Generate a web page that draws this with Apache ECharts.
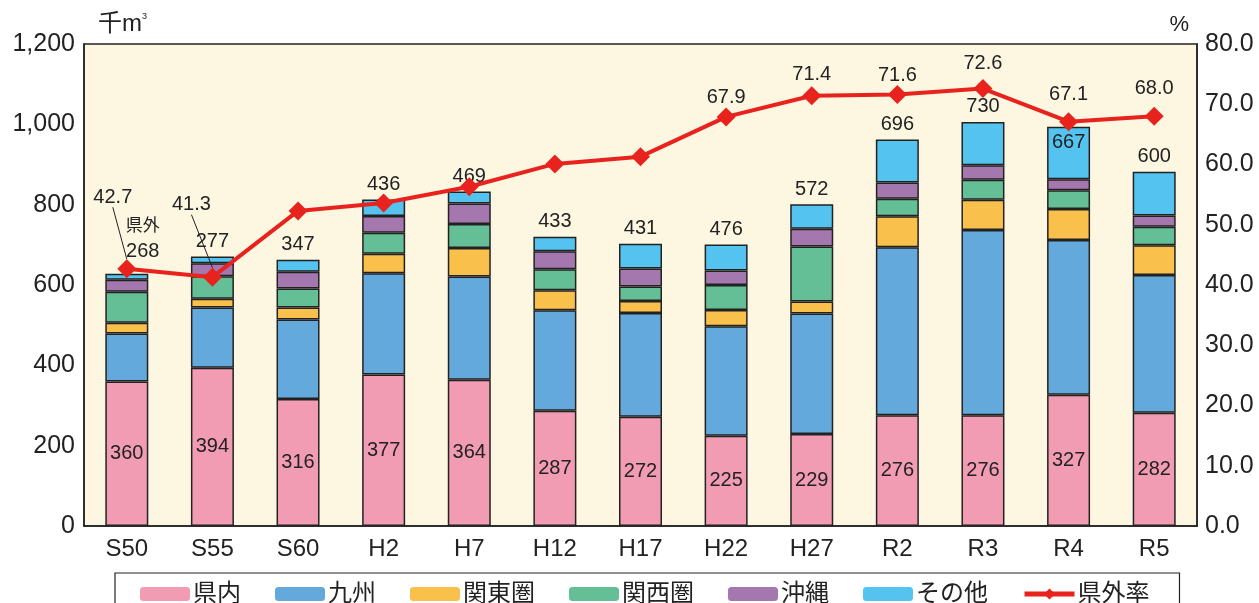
<!DOCTYPE html>
<html>
<head>
<meta charset="utf-8">
<script src="https://cdn.jsdelivr.net/npm/echarts@6/dist/echarts.min.js"></script>
<style>
  html, body { margin: 0; padding: 0; background: #fff; }
  #chart { width: 1259px; height: 603px; }
</style>
</head>
<body>
<div id="chart"></div>
<script>
const categories = ["S50", "S55", "S60", "H2", "H7", "H12", "H17", "H22", "H27", "R2", "R3", "R4", "R5"];
// 千m³
const kennai = [360, 394, 316, 377, 364, 287, 272, 225, 229, 276, 276, 327, 282];
const kyushu = [119, 150, 198, 252, 257, 250, 258, 272, 300, 418, 461, 385, 343];
const kanto = [27, 22, 30, 49, 71, 50, 30, 41, 30, 77, 75, 77, 74];
const kansai = [77, 56, 47, 52, 60, 52, 36, 62, 137, 44, 50, 47, 46];
const okinawa = [30, 32, 42, 42, 51, 45, 45, 36, 44, 40, 36, 27, 28];
const sonota = [15, 17, 30, 41, 30, 36, 62, 65, 61, 107, 108, 131, 109];
const kengaiTotal = [268, 277, 347, 436, 469, 433, 431, 476, 572, 696, 730, 667, 600];
// %
const kengaiRate = [42.7, 41.3, 52.3, 53.6, 56.3, 60.1, 61.3, 67.9, 71.4, 71.6, 72.6, 67.1, 68.0];
const rateLabelShown = [true, true, false, false, false, false, false, true, true, true, true, true, true];

const FONT = "'Liberation Sans', 'Noto Sans CJK JP', sans-serif";
const INK = "#222";
const colors = ["#f29cb4", "#64a9dc", "#f9c04c", "#64be96", "#a577af", "#55c3ef", "#e8231e"];

const chart = echarts.init(document.getElementById("chart"), null, { renderer: "canvas" });

function barSeries(name, data, extra) {
  return Object.assign({
    name: name,
    type: "bar",
    stack: "total",
    barWidth: 43,
    data: data,
    itemStyle: { borderColor: INK, borderWidth: 1.5 },
  }, extra || {});
}

const topLabels = sonota.map((v, i) => {
  let label = { show: true, position: "top", distance: 5, formatter: String(kengaiTotal[i]) };
  if (i === 0) {
    label = {
      show: true, position: "top", distance: 8, offset: [16, -2],
      formatter: "{s|県外}\n{n|" + kengaiTotal[i] + "}",
      rich: {
        s: { fontSize: 17, fontFamily: FONT, color: INK, lineHeight: 27 },
        n: { fontSize: 20, fontFamily: FONT, color: INK, lineHeight: 24 },
      },
    };
  }
  if (i === 11) label = { show: true, position: "insideTop", distance: 6, formatter: String(kengaiTotal[i]) };
  return { value: v, label: label };
});

const rateDistances = [5, 5, 5, 5, 5, 5, 5, 0, 2, 0, 6, 8, 8];
const rateData = kengaiRate.map((v, i) => ({
  value: v,
  label: { show: rateLabelShown[i], distance: rateDistances[i] },
  labelLine: { show: i < 2 },
}));

chart.setOption({
  animation: false,
  textStyle: { fontFamily: FONT, color: INK },
  color: colors,
  grid: {
    left: 84, right: 62, top: 44, bottom: 77,
    show: true, backgroundColor: "#fdf7e2", borderColor: INK, borderWidth: 1.5,
  },
  legend: {
    left: 115, top: 573,
    padding: [9, 30, 12, 25],
    itemWidth: 50, itemHeight: 14, itemGap: 34,
    borderColor: INK, borderWidth: 1.2,
    textStyle: { fontSize: 24, fontFamily: FONT, color: INK, padding: [0, 0, 0, -2] },
    itemStyle: { borderWidth: 0 },
    data: [
      "県内", "九州", "関東圏", "関西圏", "沖縄", "その他",
      { name: "県外率", lineStyle: { width: 5 } },
    ],
  },
  xAxis: {
    type: "category",
    data: categories,
    axisLine: { lineStyle: { color: INK, width: 1.5 } },
    axisTick: { inside: true, length: 7, lineStyle: { color: INK, width: 1.5 } },
    axisLabel: { fontSize: 24, color: INK, margin: 11, fontFamily: FONT },
  },
  yAxis: [
    {
      type: "value", min: 0, max: 1200, interval: 200,
      name: "{a|千m}{b|3}",
      nameLocation: "end", nameGap: 8,
      nameTextStyle: {
        align: "left", padding: [0, 0, 0, 14],
        rich: {
          a: { fontSize: 24, color: INK, fontFamily: FONT },
          b: { fontSize: 9, color: INK, fontFamily: FONT, verticalAlign: "top", padding: [0, 0, 12, 0] },
        },
      },
      axisLine: { show: true, lineStyle: { color: INK, width: 1.5 } },
      axisTick: { show: false },
      splitLine: { show: false },
      axisLabel: {
        fontSize: 25, color: INK, margin: 9, fontFamily: FONT,
        formatter: (v) => v.toLocaleString("en-US"),
      },
    },
    {
      type: "value", min: 0, max: 80, interval: 10,
      name: "%",
      nameLocation: "end", nameGap: 8,
      nameTextStyle: { fontSize: 22, color: INK, align: "right", padding: [0, 8, 0, 0], fontFamily: FONT },
      axisLine: { show: true, lineStyle: { color: INK, width: 1.5 } },
      axisTick: { show: false },
      splitLine: { show: false },
      axisLabel: {
        fontSize: 25, color: INK, margin: 8, fontFamily: FONT,
        formatter: (v) => v.toFixed(1),
      },
    },
  ],
  series: [
    barSeries("県内", kennai, {
      label: { show: true, position: "inside", fontSize: 20, color: INK, fontFamily: FONT },
    }),
    barSeries("九州", kyushu),
    barSeries("関東圏", kanto),
    barSeries("関西圏", kansai),
    barSeries("沖縄", okinawa),
    barSeries("その他", topLabels, {
      label: { fontSize: 20, color: INK, fontFamily: FONT },
    }),
    {
      name: "県外率",
      type: "line",
      yAxisIndex: 1,
      z: 5,
      data: rateData,
      symbol: "diamond",
      symbolSize: 19,
      lineStyle: { color: "#e8231e", width: 4 },
      itemStyle: { color: "#e8231e" },
      label: {
        show: true, position: "top", fontSize: 20, color: INK, fontFamily: FONT,
        formatter: (p) => p.value.toFixed(1),
      },
      labelLine: { show: false, lineStyle: { color: INK, width: 1 } },
      labelLayout: (p) => {
        if (p.dataIndex === 0) return { dx: -14, dy: -47 };
        if (p.dataIndex === 1) return { dx: -21, dy: -48 };
        return {};
      },
    },
  ],
});
</script>
</body>
</html>
